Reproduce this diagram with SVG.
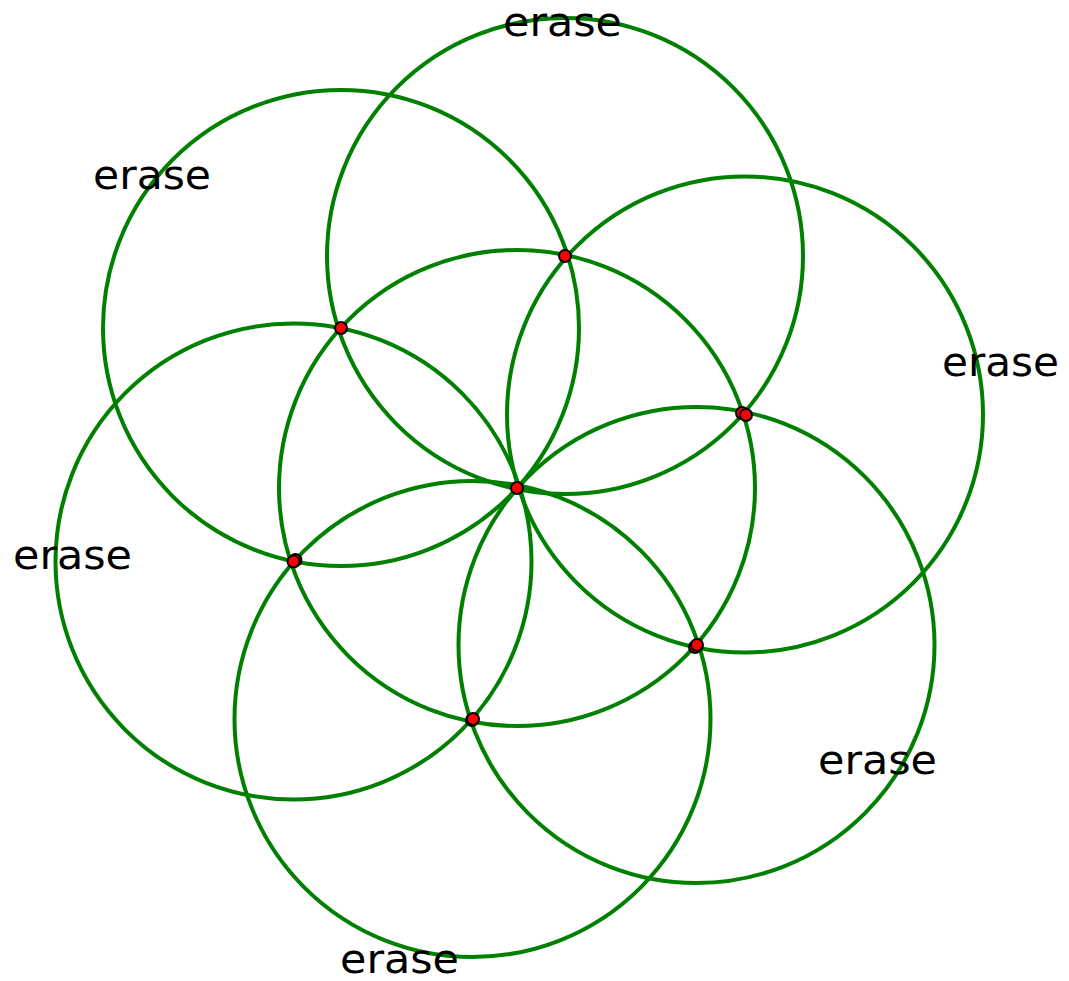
<svg xmlns="http://www.w3.org/2000/svg" width="1069" height="981" viewBox="0 0 1069 981">
<style>
.c{fill:none;stroke:#008000;stroke-width:4}
.p{fill:#ff0000;stroke:#000;stroke-width:2}
.t{font-family:"DejaVu Sans","Liberation Sans",sans-serif;font-size:40px;fill:#000}
</style>
<rect width="1069" height="981" fill="#fff"/>
<g id="connectors">
<circle class="c" cx="517" cy="488" r="238"/>
<circle class="c" cx="565" cy="256" r="238"/>
<circle class="c" cx="341" cy="328" r="238"/>
<circle class="c" cx="293.5" cy="561.5" r="238"/>
<circle class="c" cx="472.5" cy="719" r="238"/>
<circle class="c" cx="696.5" cy="645" r="238"/>
<circle class="c" cx="745" cy="414.5" r="238"/>
</g>
<g id="points">
<circle class="p" cx="742" cy="413" r="6"/>
<circle class="p" cx="295.5" cy="560" r="6"/>
<circle class="p" cx="472" cy="720" r="6"/>
<circle class="p" cx="695" cy="647" r="6"/>
<circle id="O" class="p" cx="517" cy="488" r="6"/>
<circle id="A" class="p" cx="565" cy="256" r="6"/>
<circle id="B" class="p" cx="341" cy="328" r="6"/>
<circle id="C" class="p" cx="293.5" cy="561.5" r="6"/>
<circle id="D" class="p" cx="473" cy="719" r="6"/>
<circle id="E" class="p" cx="697" cy="645" r="6"/>
<circle id="F" class="p" cx="746" cy="415" r="6"/>
</g>
<g id="labels">
<text class="t" x="503" y="36" textLength="119" lengthAdjust="spacingAndGlyphs">erase</text>
<text class="t" x="93" y="189" textLength="118" lengthAdjust="spacingAndGlyphs">erase</text>
<text class="t" x="942" y="376" textLength="117" lengthAdjust="spacingAndGlyphs">erase</text>
<text class="t" x="13" y="569" textLength="119" lengthAdjust="spacingAndGlyphs">erase</text>
<text class="t" x="818" y="774" textLength="119" lengthAdjust="spacingAndGlyphs">erase</text>
<text class="t" x="340" y="973" textLength="119" lengthAdjust="spacingAndGlyphs">erase</text>
</g>
</svg>
